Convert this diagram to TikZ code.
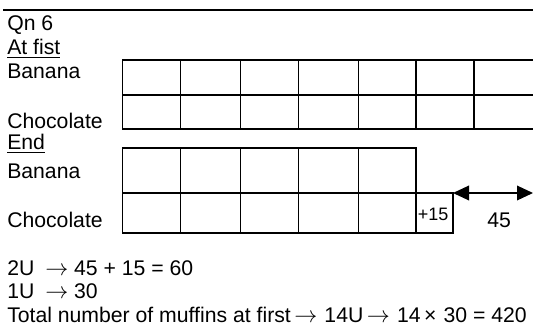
\documentclass[tikz,border=0pt]{standalone}
\usepackage{amsmath,amssymb}
\usepackage{fontspec}
\setmainfont{Liberation Sans}
\usetikzlibrary{arrows.meta}

\begin{document}
\begin{tikzpicture}[x=0.75pt,y=-0.75pt,font=\fontsize{15.9}{18}\selectfont,
  txt/.style={anchor=base west,inner sep=0pt},
  box/.style={line width=1pt}]
\useasboundingbox (0,0) rectangle (533,329);
\draw[line width=1.4pt] (3,10) -- (533,10);
% labels on the left
\node[txt] (qn) at (7,30) {Qn 6};
\node[txt] (first) at (7,54) {\underline{At fist}};
\node[txt] (ban1) at (7,78) {Banana};
\node[txt] (choc1) at (7,128) {Chocolate};
\node[txt] (end) at (7,149) {\underline{End}};
\node[txt] (ban2) at (7,178) {Banana};
\node[txt] (choc2) at (7,227) {Chocolate};
% at first: 7 units each, runs off the right edge
\draw[box] (533,60) -- (122.7,60) -- (122.7,129) -- (533,129);
\draw[box] (122.7,95) -- (533,95);
\foreach \x in {180.7,240.7,298.3,358.3,416,474} \draw[box] (\x,60) -- (\x,129);
% end
\draw[box] (122.7,148) rectangle (416,233);
\draw[box] (122.7,193) -- (453,193) -- (453,233) -- (416,233);
\foreach \x in {180.7,240.7,298.3,358.3} \draw[box] (\x,148) -- (\x,233);
\node[txt,font=\fontsize{13.5}{15}\selectfont] (plus) at (417.5,220) {+15};
\coordinate (L) at (453,193); \coordinate (R) at (533,193);
\draw[line width=1pt,{Triangle[length=12pt,width=11pt]}-{Triangle[length=12pt,width=11pt]}] (L) -- (R);
\node[txt] (diff) at (487,227) {45};
% working
\node[txt] (u2) at (7,275) {2U};
\node[txt] (u2r) at (45,275) {$\rightarrow$ 45 + 15 = 60};
\node[txt] (u1) at (7,298) {1U};
\node[txt] (u1r) at (45,298) {$\rightarrow$ 30};
\node[txt] (tot) at (7,322) {Total number of muffins at first\,$\rightarrow$\,\,14U\,$\rightarrow$\,\,14\,×\,\,30 = 420};
\end{tikzpicture}
\end{document}
